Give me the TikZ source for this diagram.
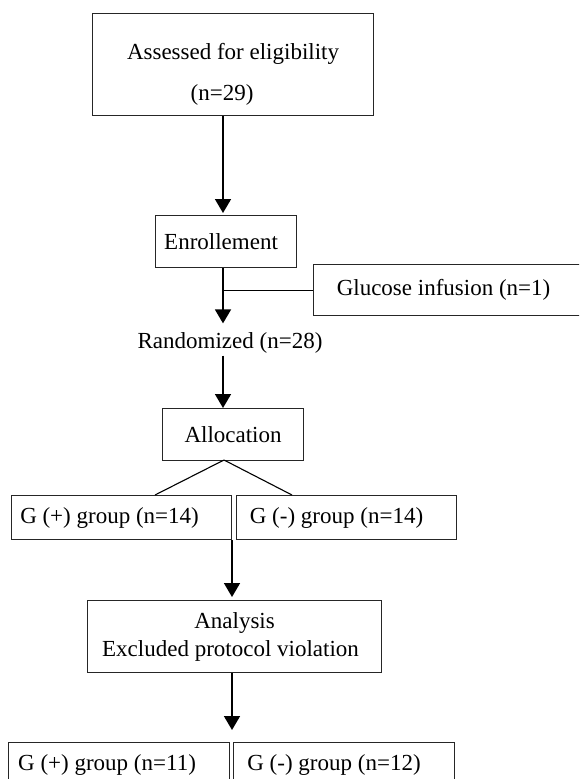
\documentclass[tikz,border=0pt]{standalone}
\usepackage{fontspec}
\setmainfont{Liberation Serif}
\usetikzlibrary{arrows.meta}
\begin{document}
\begin{tikzpicture}[x=1pt,y=-1pt,
  every node/.style={font=\fontsize{23}{27}\selectfont},
  box/.style={draw=black!85, line width=1.1pt, inner sep=0pt, anchor=north west, align=center},
  arr/.style={line width=1.7pt, -{Triangle[width=16pt,length=14pt]}},
  ln/.style={line width=1.1pt}]
\useasboundingbox (0,0) rectangle (579,779);
\clip (0,0) rectangle (579,779);
\fill[white] (0,0) rectangle (579,779);
\coordinate (xa) at (223,0);
\coordinate (xb) at (232,0);
\node[box, minimum width=281pt, minimum height=102pt] (A) at (92,13) {\rule{0pt}{36pt}Assessed for eligibility\\[14pt]\hspace*{-22pt}(n=29)};
\node[box, minimum width=141pt, minimum height=52pt] (E) at (155,215) {\hspace*{-10pt}Enrollement};
\node[box, minimum width=280pt, minimum height=51pt] (G) at (313,264) {\hspace*{-20pt}Glucose infusion (n=1)};
\node[inner sep=2pt] (R) at (230,343) {Randomized (n=28)};
\node[box, minimum width=141pt, minimum height=52pt] (L) at (162,408) {Allocation};
\node[box, minimum width=220pt, minimum height=44pt] (P1) at (11,495) {\hspace*{-24pt}G (+) group (n=14)};
\node[box, minimum width=220pt, minimum height=44pt] (M1) at (236,495) {\hspace*{-20pt}G (-) group (n=14)};
\node[box, minimum width=294pt, minimum height=72pt] (N) at (87,600) {Analysis\\[1pt]\hspace*{-8pt}Excluded protocol violation};
\node[box, minimum width=221pt, minimum height=44pt] (P2) at (8,742) {\hspace*{-24pt}G (+) group (n=11)};
\node[box, minimum width=221pt, minimum height=44pt] (M2) at (233,742) {\hspace*{-20pt}G (-) group (n=12)};
\coordinate (sp) at (224,460);
\draw[arr] (A.south -| xa) -- ([yshift=2pt]E.north -| xa);
\draw[arr] (E.south -| xa) -- ([yshift=7pt]R.north -| xa);
\draw[ln] (G.west) -- (G.west -| xa);
\draw[arr] (R.south -| xa) -- (L.north -| xa);
\draw[ln] (sp) -- (155,495);
\draw[ln] (sp) -- (292,495);
\draw[arr] (P1.south -| xb) -- ([yshift=3pt]N.north -| xb);
\draw[arr] (N.south -| xb) -- ([yshift=12pt]M2.north -| xb);
\end{tikzpicture}
\end{document}
